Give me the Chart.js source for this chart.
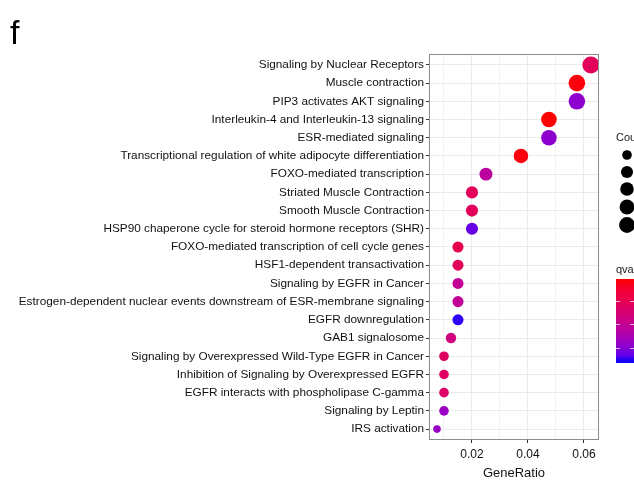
<!DOCTYPE html>
<html>
<head>
<meta charset="utf-8">
<script src="https://cdn.jsdelivr.net/npm/chart.js@4"></script>
<style>
  html, body { margin: 0; padding: 0; background: #fff; }
  #wrap { position: relative; width: 634px; height: 481px; }
</style>
</head>
<body>
<div id="wrap"><canvas id="dotChart" width="634" height="481"></canvas></div>
<script>
// Data
const pathways = [
    'Signaling by Nuclear Receptors',
    'Muscle contraction',
    'PIP3 activates AKT signaling',
    'Interleukin-4 and Interleukin-13 signaling',
    'ESR-mediated signaling',
    'Transcriptional regulation of white adipocyte differentiation',
    'FOXO-mediated transcription',
    'Striated Muscle Contraction',
    'Smooth Muscle Contraction',
    'HSP90 chaperone cycle for steroid hormone receptors (SHR)',
    'FOXO-mediated transcription of cell cycle genes',
    'HSF1-dependent transactivation',
    'Signaling by EGFR in Cancer',
    'Estrogen-dependent nuclear events downstream of ESR-membrane signaling',
    'EGFR downregulation',
    'GAB1 signalosome',
    'Signaling by Overexpressed Wild-Type EGFR in Cancer',
    'Inhibition of Signaling by Overexpressed EGFR',
    'EGFR interacts with phospholipase C-gamma',
    'Signaling by Leptin',
    'IRS activation'
];
const geneRatio = [0.0625, 0.0575, 0.0575, 0.0475, 0.0475, 0.0375, 0.025, 0.02, 0.02, 0.02,
                   0.015, 0.015, 0.015, 0.015, 0.015, 0.0125, 0.01, 0.01, 0.01, 0.01, 0.0075];
const counts = [25, 23, 23, 19, 19, 15, 10, 8, 8, 8, 6, 6, 6, 6, 6, 5, 4, 4, 4, 4, 3];
// qvalue position on the colour bar (0 = red/low, 1 = blue/high); bar labels are cut off
const qvalue = [0.30, 0.02, 0.80, 0.00, 0.80, 0.02, 0.60, 0.30, 0.30, 0.90,
                0.25, 0.30, 0.55, 0.55, 0.98, 0.45, 0.32, 0.32, 0.35, 0.75, 0.75];
const xTickValues = [0.01, 0.02, 0.03, 0.04, 0.05, 0.06];
const xTickLabels = { '0.02': '0.02', '0.04': '0.04', '0.06': '0.06' };
const countLegend = [4, 8, 12, 16, 20];

const FONT = "'Liberation Sans', Arial, sans-serif";

// ggplot-like red -> blue gradient interpolated in Lab
function toLab(rgb) {
    const lin = rgb.map(c => { c /= 255; return c <= 0.04045 ? c / 12.92 : Math.pow((c + 0.055) / 1.055, 2.4); });
    const X = (0.4124 * lin[0] + 0.3576 * lin[1] + 0.1805 * lin[2]) / 0.95047;
    const Y = (0.2126 * lin[0] + 0.7152 * lin[1] + 0.0722 * lin[2]);
    const Z = (0.0193 * lin[0] + 0.1192 * lin[1] + 0.9505 * lin[2]) / 1.08883;
    const f = t => t > 0.008856 ? Math.cbrt(t) : 7.787 * t + 16 / 116;
    return [116 * f(Y) - 16, 500 * (f(X) - f(Y)), 200 * (f(Y) - f(Z))];
}
function fromLab(lab) {
    const fy = (lab[0] + 16) / 116, fx = fy + lab[1] / 500, fz = fy - lab[2] / 200;
    const g = t => t * t * t > 0.008856 ? t * t * t : (t - 16 / 116) / 7.787;
    const X = g(fx) * 0.95047, Y = g(fy), Z = g(fz) * 1.08883;
    const lin = [
        3.2406 * X - 1.5372 * Y - 0.4986 * Z,
        -0.9689 * X + 1.8758 * Y + 0.0415 * Z,
        0.0557 * X - 0.2040 * Y + 1.0570 * Z
    ];
    return lin.map(c => {
        c = c <= 0.0031308 ? 12.92 * c : 1.055 * Math.pow(c, 1 / 2.4) - 0.055;
        return Math.round(Math.min(1, Math.max(0, c)) * 255);
    });
}
const labLow = toLab([255, 0, 0]);
const labHigh = toLab([0, 0, 255]);
function qColor(t) {
    const lab = labLow.map((v, i) => v + (labHigh[i] - v) * t);
    const c = fromLab(lab);
    return `rgb(${c[0]}, ${c[1]}, ${c[2]})`;
}

// area scale like ggplot scale_size
const minCount = 3, maxCount = 25, rMin = 3.8, rMax = 8.5;
function countRadius(n) {
    return rMin + (rMax - rMin) * Math.sqrt((n - minCount) / (maxCount - minCount));
}

const points = pathways.map((name, i) => ({ x: geneRatio[i], y: i, r: countRadius(counts[i]) }));

// Panel border, panel label and the legends
const extras = {
    id: 'extras',
    afterDraw(chart) {
        const ctx = chart.ctx;
        const a = chart.chartArea;
        ctx.save();
        ctx.strokeStyle = '#8c8c8c';
        ctx.lineWidth = 1;
        ctx.strokeRect(Math.round(a.left) + 0.5, Math.round(a.top) + 0.5,
            Math.round(a.right - a.left) - 1, Math.round(a.bottom - a.top) - 1);

        ctx.fillStyle = '#000';
        ctx.font = `34px ${FONT}`;
        ctx.textBaseline = 'alphabetic';
        ctx.fillText('f', 10, 44);

        // Count legend
        ctx.fillStyle = '#1a1a1a';
        ctx.font = `11px ${FONT}`;
        ctx.fillText('Count', 616, 140.5);
        const ys = [155, 172, 189, 207, 225];
        countLegend.forEach((n, i) => {
            ctx.beginPath();
            ctx.arc(627, ys[i], countRadius(n), 0, Math.PI * 2);
            ctx.fillStyle = '#000';
            ctx.fill();
        });

        // qvalue colour bar
        ctx.fillStyle = '#1a1a1a';
        ctx.fillText('qvalue', 616, 272.5);
        const top = 279, bot = 363;
        const grad = ctx.createLinearGradient(0, top, 0, bot);
        for (let k = 0; k <= 10; k++) grad.addColorStop(k / 10, qColor(k / 10));
        ctx.fillStyle = grad;
        ctx.fillRect(616, top, 20, bot - top);
        ctx.strokeStyle = 'rgba(255,255,255,0.7)';
        [301, 324, 348].forEach(ty => {
            ctx.beginPath();
            ctx.moveTo(616, ty + 0.5); ctx.lineTo(620, ty + 0.5);
            ctx.moveTo(630, ty + 0.5); ctx.lineTo(634, ty + 0.5);
            ctx.stroke();
        });
        ctx.restore();
    }
};

new Chart(document.getElementById('dotChart').getContext('2d'), {
    type: 'bubble',
    data: {
        datasets: [{
            data: points,
            backgroundColor: qvalue.map(qColor),
            borderWidth: 0,
            hoverBorderWidth: 0
        }]
    },
    options: {
        responsive: false,
        animation: false,
        events: [],
        layout: { padding: { top: 54, right: 35, left: 0, bottom: 0 } },
        plugins: { legend: { display: false }, tooltip: { enabled: false } },
        scales: {
            x: {
                type: 'linear',
                min: 0.00464,
                max: 0.0654,
                afterBuildTicks: (scale) => { scale.ticks = xTickValues.map(v => ({ value: v })); },
                afterFit: (scale) => { scale.height = 41; },
                grid: {
                    color: '#ebebeb',
                    lineWidth: (c) => xTickLabels[c.tick && c.tick.value.toFixed(2)] ? 1 : 0.6,
                    tickColor: (c) => xTickLabels[c.tick && c.tick.value.toFixed(2)] ? '#333' : 'rgba(0,0,0,0)',
                    tickLength: 3,
                    drawTicks: true
                },
                border: { display: false },
                ticks: {
                    color: '#111',
                    font: { family: FONT, size: 12 },
                    padding: 4,
                    maxRotation: 0,
                    autoSkip: false,
                    callback: (v) => xTickLabels[Number(v).toFixed(2)] || ''
                },
                title: {
                    display: true,
                    text: 'GeneRatio',
                    color: '#111',
                    font: { family: FONT, size: 13 },
                    padding: { top: 0, bottom: 0 }
                }
            },
            y: {
                type: 'linear',
                reverse: true,
                min: -0.6,
                max: pathways.length - 0.4,
                afterBuildTicks: (scale) => { scale.ticks = pathways.map((p, i) => ({ value: i })); },
                afterFit: (scale) => { scale.width = 429; },
                grid: {
                    color: '#ebebeb',
                    lineWidth: 1,
                    tickColor: '#333',
                    tickLength: 3,
                    drawTicks: true
                },
                border: { display: false },
                ticks: {
                    color: '#111',
                    font: { family: FONT, size: 11.8 },
                    padding: 2,
                    autoSkip: false,
                    callback: (v) => pathways[v]
                }
            }
        }
    },
    plugins: [extras]
});
</script>
</body>
</html>
